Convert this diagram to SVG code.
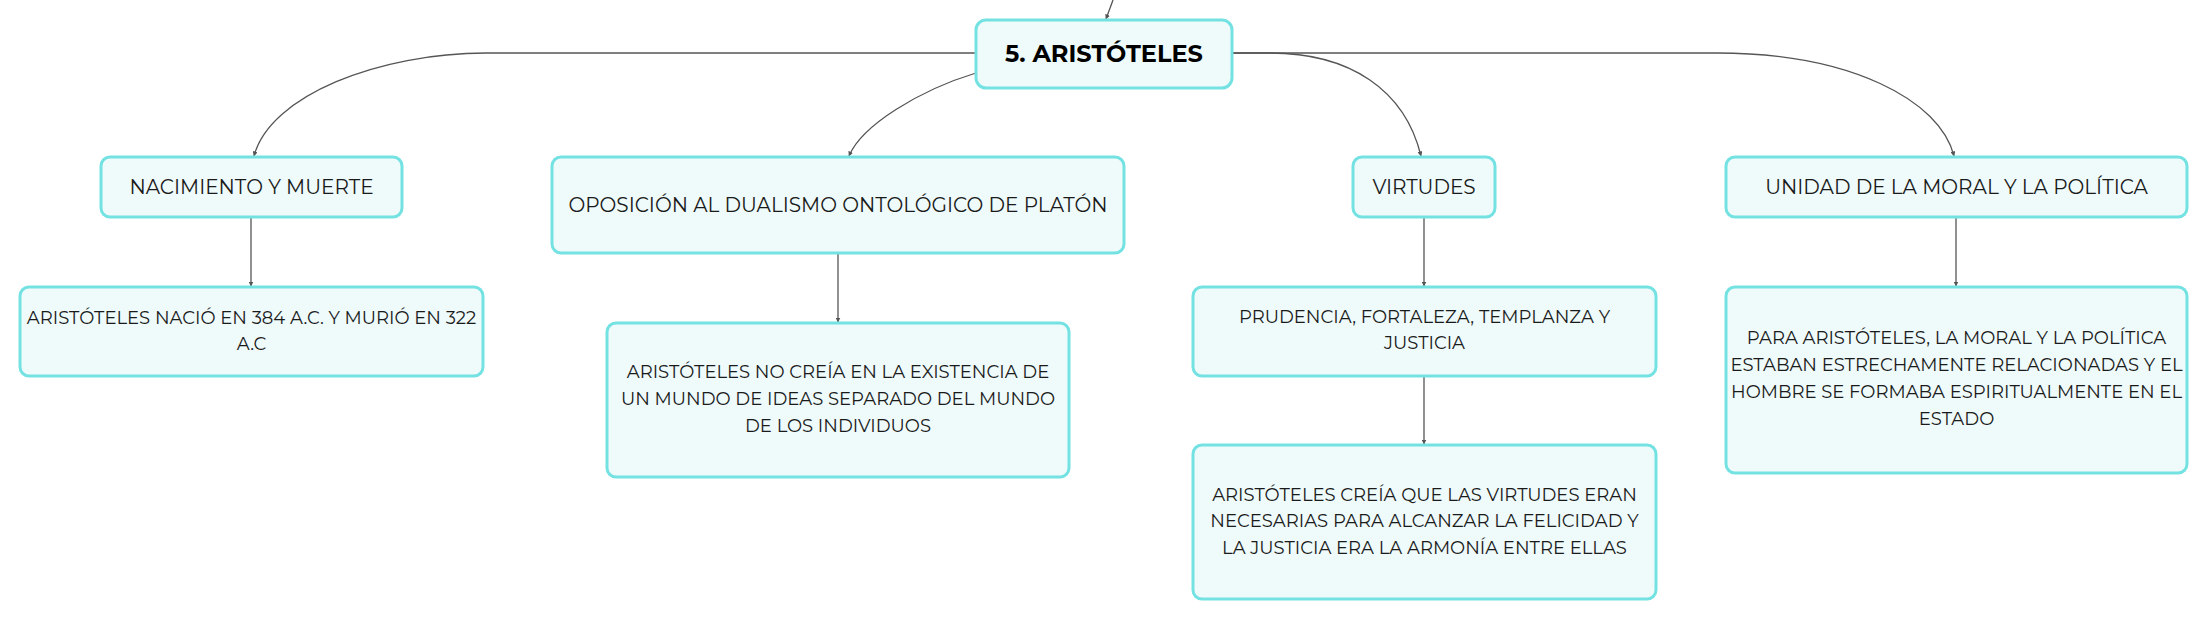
<svg xmlns="http://www.w3.org/2000/svg" width="2208" height="620" viewBox="0 0 2208 620">
<defs>
<style>
.node rect{fill:#effbfb;stroke:#74e2e2;stroke-width:3}
.node text{font-family:Montserrat,'Liberation Sans',Arial,sans-serif;fill:#1a1a1a;text-anchor:middle}
.l1 text{font-size:20px}
.l2 text{font-size:18px}
.root text{font-size:24px;font-weight:bold;fill:#000}
.conn path{fill:none;stroke:#555;stroke-width:1.3;marker-end:url(#arr)}
</style>
<marker id="arr" markerWidth="5" markerHeight="5" refX="4.5" refY="2.5" orient="auto" markerUnits="userSpaceOnUse">
<path d="M0,0 L5,2.5 L0,5 Z" fill="#555"/>
</marker>
</defs>
<rect width="2208" height="620" fill="#fff"/>
<g id="connectors" class="conn">
<path d="M1113,0 L1106,19"/>
<path d="M976,53 L486,53 C380,53 270,95 254,156"/>
<path d="M976,73 C920,90 862,125 849,156"/>
<path d="M1232,53 L1270,53 C1350,53 1405,90 1421,156"/>
<path d="M1232,53 L1717,53 C1850,53 1940,100 1954,156"/>
<path d="M251,218 V286"/>
<path d="M838,254 V322"/>
<path d="M1424,218 V286"/>
<path d="M1424,377 V444"/>
<path d="M1956,218 V286"/>
</g>
<g id="root" class="node root">
<rect x="976" y="20" width="256" height="68" rx="10"/>
<text x="1104" y="62">5. ARISTÓTELES</text>
</g>
<g id="nacimiento" class="node l1">
<rect x="101" y="157" width="301" height="60" rx="9"/>
<text x="251.5" y="194">NACIMIENTO Y MUERTE</text>
</g>
<g id="nacimiento-detalle" class="node l2">
<rect x="20" y="287" width="463" height="89" rx="9"/>
<text x="251.5" y="324">ARISTÓTELES NACIÓ EN 384 A.C. Y MURIÓ EN 322</text>
<text x="251.5" y="350">A.C</text>
</g>
<g id="oposicion" class="node l1">
<rect x="552" y="157" width="572" height="96" rx="9"/>
<text x="838" y="212">OPOSICIÓN AL DUALISMO ONTOLÓGICO DE PLATÓN</text>
</g>
<g id="oposicion-detalle" class="node l2">
<rect x="607" y="323" width="462" height="154" rx="9"/>
<text x="838" y="378">ARISTÓTELES NO CREÍA EN LA EXISTENCIA DE</text>
<text x="838" y="405">UN MUNDO DE IDEAS SEPARADO DEL MUNDO</text>
<text x="838" y="432">DE LOS INDIVIDUOS</text>
</g>
<g id="virtudes" class="node l1">
<rect x="1353" y="157" width="142" height="60" rx="9"/>
<text x="1424" y="194">VIRTUDES</text>
</g>
<g id="virtudes-lista" class="node l2">
<rect x="1193" y="287" width="463" height="89" rx="9"/>
<text x="1424.5" y="323">PRUDENCIA, FORTALEZA, TEMPLANZA Y</text>
<text x="1424.5" y="349">JUSTICIA</text>
</g>
<g id="virtudes-detalle" class="node l2">
<rect x="1193" y="445" width="463" height="154" rx="9"/>
<text x="1424.5" y="501">ARISTÓTELES CREÍA QUE LAS VIRTUDES ERAN</text>
<text x="1424.5" y="527">NECESARIAS PARA ALCANZAR LA FELICIDAD Y</text>
<text x="1424.5" y="554">LA JUSTICIA ERA LA ARMONÍA ENTRE ELLAS</text>
</g>
<g id="unidad" class="node l1">
<rect x="1726" y="157" width="461" height="60" rx="9"/>
<text x="1956.5" y="194">UNIDAD DE LA MORAL Y LA POLÍTICA</text>
</g>
<g id="unidad-detalle" class="node l2">
<rect x="1726" y="287" width="461" height="186" rx="9"/>
<text x="1956.5" y="344">PARA ARISTÓTELES, LA MORAL Y LA POLÍTICA</text>
<text x="1956.5" y="371">ESTABAN ESTRECHAMENTE RELACIONADAS Y EL</text>
<text x="1956.5" y="398">HOMBRE SE FORMABA ESPIRITUALMENTE EN EL</text>
<text x="1956.5" y="425">ESTADO</text>
</g>
</svg>
